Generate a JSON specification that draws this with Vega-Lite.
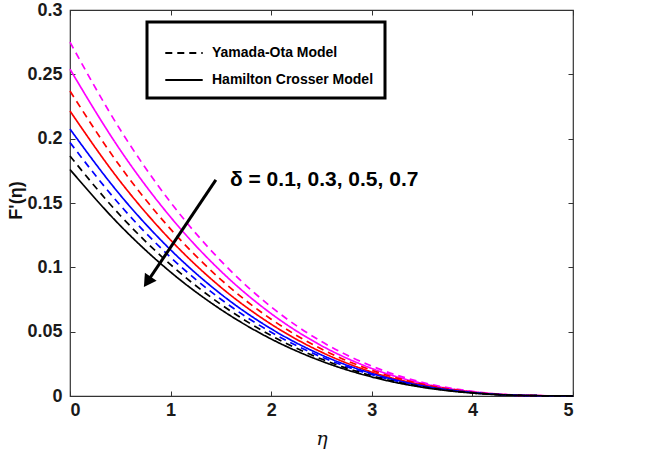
{
  "$schema": "https://vega.github.io/schema/vega-lite/v6.json",
  "width": 503,
  "height": 386,
  "autosize": {"type": "none"},
  "padding": {"left": 70, "top": 10, "right": 72, "bottom": 61},
  "background": "white",
  "config": {
    "view": {"stroke": "#333333", "strokeWidth": 1.2},
    "axis": {"labelFont": "Liberation Sans", "labelFontWeight": "bold", "labelFontSize": 18, "labelColor": "#1a1a1a", "domain": false, "grid": false, "tickColor": "#333333", "tickSize": -5, "titleColor": "#111111"}
  },
  "datasets": {
    "curves": [
      {"eta": 0, "F": 0.275, "delta": "0.1", "model": "Yamada-Ota Model"},
      {"eta": 0.5, "F": 0.2069, "delta": "0.1", "model": "Yamada-Ota Model"},
      {"eta": 1, "F": 0.1505, "delta": "0.1", "model": "Yamada-Ota Model"},
      {"eta": 1.5, "F": 0.105, "delta": "0.1", "model": "Yamada-Ota Model"},
      {"eta": 2, "F": 0.0692, "delta": "0.1", "model": "Yamada-Ota Model"},
      {"eta": 2.5, "F": 0.0423, "delta": "0.1", "model": "Yamada-Ota Model"},
      {"eta": 3, "F": 0.0232, "delta": "0.1", "model": "Yamada-Ota Model"},
      {"eta": 3.5, "F": 0.0106, "delta": "0.1", "model": "Yamada-Ota Model"},
      {"eta": 4, "F": 0.0036, "delta": "0.1", "model": "Yamada-Ota Model"},
      {"eta": 4.5, "F": 0.00055, "delta": "0.1", "model": "Yamada-Ota Model"},
      {"eta": 5, "F": 0, "delta": "0.1", "model": "Yamada-Ota Model"},
      {"eta": 0, "F": 0.254, "delta": "0.1", "model": "Hamilton Crosser Model"},
      {"eta": 0.5, "F": 0.1911, "delta": "0.1", "model": "Hamilton Crosser Model"},
      {"eta": 1, "F": 0.139, "delta": "0.1", "model": "Hamilton Crosser Model"},
      {"eta": 1.5, "F": 0.097, "delta": "0.1", "model": "Hamilton Crosser Model"},
      {"eta": 2, "F": 0.064, "delta": "0.1", "model": "Hamilton Crosser Model"},
      {"eta": 2.5, "F": 0.0391, "delta": "0.1", "model": "Hamilton Crosser Model"},
      {"eta": 3, "F": 0.0214, "delta": "0.1", "model": "Hamilton Crosser Model"},
      {"eta": 3.5, "F": 0.0098, "delta": "0.1", "model": "Hamilton Crosser Model"},
      {"eta": 4, "F": 0.0033, "delta": "0.1", "model": "Hamilton Crosser Model"},
      {"eta": 4.5, "F": 0.0005, "delta": "0.1", "model": "Hamilton Crosser Model"},
      {"eta": 5, "F": 0, "delta": "0.1", "model": "Hamilton Crosser Model"},
      {"eta": 0, "F": 0.237, "delta": "0.3", "model": "Yamada-Ota Model"},
      {"eta": 0.5, "F": 0.1783, "delta": "0.3", "model": "Yamada-Ota Model"},
      {"eta": 1, "F": 0.1297, "delta": "0.3", "model": "Yamada-Ota Model"},
      {"eta": 1.5, "F": 0.0905, "delta": "0.3", "model": "Yamada-Ota Model"},
      {"eta": 2, "F": 0.0597, "delta": "0.3", "model": "Yamada-Ota Model"},
      {"eta": 2.5, "F": 0.0365, "delta": "0.3", "model": "Yamada-Ota Model"},
      {"eta": 3, "F": 0.02, "delta": "0.3", "model": "Yamada-Ota Model"},
      {"eta": 3.5, "F": 0.0092, "delta": "0.3", "model": "Yamada-Ota Model"},
      {"eta": 4, "F": 0.0031, "delta": "0.3", "model": "Yamada-Ota Model"},
      {"eta": 4.5, "F": 0.0005, "delta": "0.3", "model": "Yamada-Ota Model"},
      {"eta": 5, "F": 0, "delta": "0.3", "model": "Yamada-Ota Model"},
      {"eta": 0, "F": 0.2215, "delta": "0.3", "model": "Hamilton Crosser Model"},
      {"eta": 0.5, "F": 0.1667, "delta": "0.3", "model": "Hamilton Crosser Model"},
      {"eta": 1, "F": 0.1212, "delta": "0.3", "model": "Hamilton Crosser Model"},
      {"eta": 1.5, "F": 0.0845, "delta": "0.3", "model": "Hamilton Crosser Model"},
      {"eta": 2, "F": 0.0558, "delta": "0.3", "model": "Hamilton Crosser Model"},
      {"eta": 2.5, "F": 0.0341, "delta": "0.3", "model": "Hamilton Crosser Model"},
      {"eta": 3, "F": 0.0186, "delta": "0.3", "model": "Hamilton Crosser Model"},
      {"eta": 3.5, "F": 0.0086, "delta": "0.3", "model": "Hamilton Crosser Model"},
      {"eta": 4, "F": 0.0029, "delta": "0.3", "model": "Hamilton Crosser Model"},
      {"eta": 4.5, "F": 0.0004, "delta": "0.3", "model": "Hamilton Crosser Model"},
      {"eta": 5, "F": 0, "delta": "0.3", "model": "Hamilton Crosser Model"},
      {"eta": 0, "F": 0.197, "delta": "0.5", "model": "Yamada-Ota Model"},
      {"eta": 0.5, "F": 0.1482, "delta": "0.5", "model": "Yamada-Ota Model"},
      {"eta": 1, "F": 0.1078, "delta": "0.5", "model": "Yamada-Ota Model"},
      {"eta": 1.5, "F": 0.0752, "delta": "0.5", "model": "Yamada-Ota Model"},
      {"eta": 2, "F": 0.0496, "delta": "0.5", "model": "Yamada-Ota Model"},
      {"eta": 2.5, "F": 0.0303, "delta": "0.5", "model": "Yamada-Ota Model"},
      {"eta": 3, "F": 0.0166, "delta": "0.5", "model": "Yamada-Ota Model"},
      {"eta": 3.5, "F": 0.0076, "delta": "0.5", "model": "Yamada-Ota Model"},
      {"eta": 4, "F": 0.0026, "delta": "0.5", "model": "Yamada-Ota Model"},
      {"eta": 4.5, "F": 0.0004, "delta": "0.5", "model": "Yamada-Ota Model"},
      {"eta": 5, "F": 0, "delta": "0.5", "model": "Yamada-Ota Model"},
      {"eta": 0, "F": 0.2075, "delta": "0.5", "model": "Hamilton Crosser Model"},
      {"eta": 0.5, "F": 0.1561, "delta": "0.5", "model": "Hamilton Crosser Model"},
      {"eta": 1, "F": 0.1136, "delta": "0.5", "model": "Hamilton Crosser Model"},
      {"eta": 1.5, "F": 0.0792, "delta": "0.5", "model": "Hamilton Crosser Model"},
      {"eta": 2, "F": 0.0522, "delta": "0.5", "model": "Hamilton Crosser Model"},
      {"eta": 2.5, "F": 0.0319, "delta": "0.5", "model": "Hamilton Crosser Model"},
      {"eta": 3, "F": 0.0175, "delta": "0.5", "model": "Hamilton Crosser Model"},
      {"eta": 3.5, "F": 0.008, "delta": "0.5", "model": "Hamilton Crosser Model"},
      {"eta": 4, "F": 0.0027, "delta": "0.5", "model": "Hamilton Crosser Model"},
      {"eta": 4.5, "F": 0.0004, "delta": "0.5", "model": "Hamilton Crosser Model"},
      {"eta": 5, "F": 0, "delta": "0.5", "model": "Hamilton Crosser Model"},
      {"eta": 0, "F": 0.1865, "delta": "0.7", "model": "Yamada-Ota Model"},
      {"eta": 0.5, "F": 0.1403, "delta": "0.7", "model": "Yamada-Ota Model"},
      {"eta": 1, "F": 0.1021, "delta": "0.7", "model": "Yamada-Ota Model"},
      {"eta": 1.5, "F": 0.0712, "delta": "0.7", "model": "Yamada-Ota Model"},
      {"eta": 2, "F": 0.047, "delta": "0.7", "model": "Yamada-Ota Model"},
      {"eta": 2.5, "F": 0.0287, "delta": "0.7", "model": "Yamada-Ota Model"},
      {"eta": 3, "F": 0.0157, "delta": "0.7", "model": "Yamada-Ota Model"},
      {"eta": 3.5, "F": 0.0072, "delta": "0.7", "model": "Yamada-Ota Model"},
      {"eta": 4, "F": 0.0024, "delta": "0.7", "model": "Yamada-Ota Model"},
      {"eta": 4.5, "F": 0.0004, "delta": "0.7", "model": "Yamada-Ota Model"},
      {"eta": 5, "F": 0, "delta": "0.7", "model": "Yamada-Ota Model"},
      {"eta": 0, "F": 0.176, "delta": "0.7", "model": "Hamilton Crosser Model"},
      {"eta": 0.5, "F": 0.1324, "delta": "0.7", "model": "Hamilton Crosser Model"},
      {"eta": 1, "F": 0.0963, "delta": "0.7", "model": "Hamilton Crosser Model"},
      {"eta": 1.5, "F": 0.0672, "delta": "0.7", "model": "Hamilton Crosser Model"},
      {"eta": 2, "F": 0.0443, "delta": "0.7", "model": "Hamilton Crosser Model"},
      {"eta": 2.5, "F": 0.0271, "delta": "0.7", "model": "Hamilton Crosser Model"},
      {"eta": 3, "F": 0.0148, "delta": "0.7", "model": "Hamilton Crosser Model"},
      {"eta": 3.5, "F": 0.0068, "delta": "0.7", "model": "Hamilton Crosser Model"},
      {"eta": 4, "F": 0.0023, "delta": "0.7", "model": "Hamilton Crosser Model"},
      {"eta": 4.5, "F": 0.0004, "delta": "0.7", "model": "Hamilton Crosser Model"},
      {"eta": 5, "F": 0, "delta": "0.7", "model": "Hamilton Crosser Model"}
    ],
    "arrow": [{"x1": 1.45, "y1": 0.168, "x2": 0.78, "y2": 0.09, "label": "δ = 0.1, 0.3, 0.5, 0.7", "lx": 1.59, "ly": 0.168}]
  },
  "resolve": {"axis": {"x": "independent", "y": "independent"}},
  "layer": [
    {
      "layer": [
        {
          "data": {"name": "curves"},
          "mark": {"type": "line", "strokeWidth": 1.7, "interpolate": "monotone"},
          "encoding": {
            "x": {"field": "eta", "type": "quantitative", "scale": {"domain": [0, 5], "nice": false}, "axis": {"values": [0, 1, 2, 3, 4, 5], "format": "d", "title": "η", "titleFont": "DejaVu Serif", "titleFontStyle": "italic", "titleFontWeight": "normal", "titleFontSize": 19, "titlePadding": 10, "labelPadding": 10}},
            "y": {"field": "F", "type": "quantitative", "scale": {"domain": [0, 0.3], "nice": false}, "axis": {"values": [0, 0.05, 0.1, 0.15, 0.2, 0.25, 0.3], "format": "~g", "title": "F'(η)", "titleFont": "Liberation Sans", "titleFontWeight": "bold", "titleFontSize": 18, "titleX": -45, "titleY": 190, "labelPadding": 13}},
            "color": {"field": "delta", "type": "nominal", "scale": {"domain": ["0.1", "0.3", "0.5", "0.7"], "range": ["#ff00ff", "#ff0000", "#0000ff", "#000000"]}, "legend": null},
            "strokeDash": {"field": "model", "type": "nominal", "scale": {"domain": ["Yamada-Ota Model", "Hamilton Crosser Model"], "range": [[7, 5], [1, 0]]}, "legend": {"title": null, "orient": "none", "legendX": 77, "legendY": 12, "padding": 11, "strokeColor": "#000000", "fillColor": "white", "symbolType": "stroke", "symbolStrokeColor": "#000000", "symbolStrokeWidth": 2, "symbolSize": 1400, "symbolOffset": 6, "labelFont": "Liberation Sans", "labelFontWeight": "bold", "labelFontSize": 14, "labelColor": "#000000", "rowPadding": 0, "labelOffset": 8, "labelLimit": 300, "labelExpr": "datum.label + '  '", "encode": {"legend": {"update": {"strokeWidth": {"value": 3}}}}}}
          }
        },
        {
          "data": {"name": "arrow"},
          "mark": {"type": "point", "shape": "triangle", "filled": true, "color": "#000000", "size": 200, "angle": 214, "opacity": 1},
          "encoding": {
            "x": {"field": "x2", "type": "quantitative"},
            "y": {"field": "y2", "type": "quantitative"}
          }
        },
        {
          "data": {"name": "arrow"},
          "mark": {"type": "text", "align": "left", "baseline": "middle", "font": "Liberation Sans", "fontWeight": "bold", "fontSize": 21, "color": "#000000"},
          "encoding": {
            "x": {"field": "lx", "type": "quantitative"},
            "y": {"field": "ly", "type": "quantitative"},
            "text": {"field": "label"}
          }
        }
      ]
    },
    {
      "data": {"name": "arrow"},
      "mark": {"type": "rule", "strokeWidth": 3, "color": "#000000"},
      "encoding": {
        "x": {"field": "x1", "type": "quantitative", "axis": {"orient": "top", "values": [0, 1, 2, 3, 4, 5], "labels": false, "title": null}},
        "y": {"field": "y1", "type": "quantitative", "axis": {"orient": "right", "values": [0, 0.05, 0.1, 0.15, 0.2, 0.25, 0.3], "labels": false, "title": null}},
        "x2": {"field": "x2"},
        "y2": {"field": "y2"}
      }
    }
  ]
}
